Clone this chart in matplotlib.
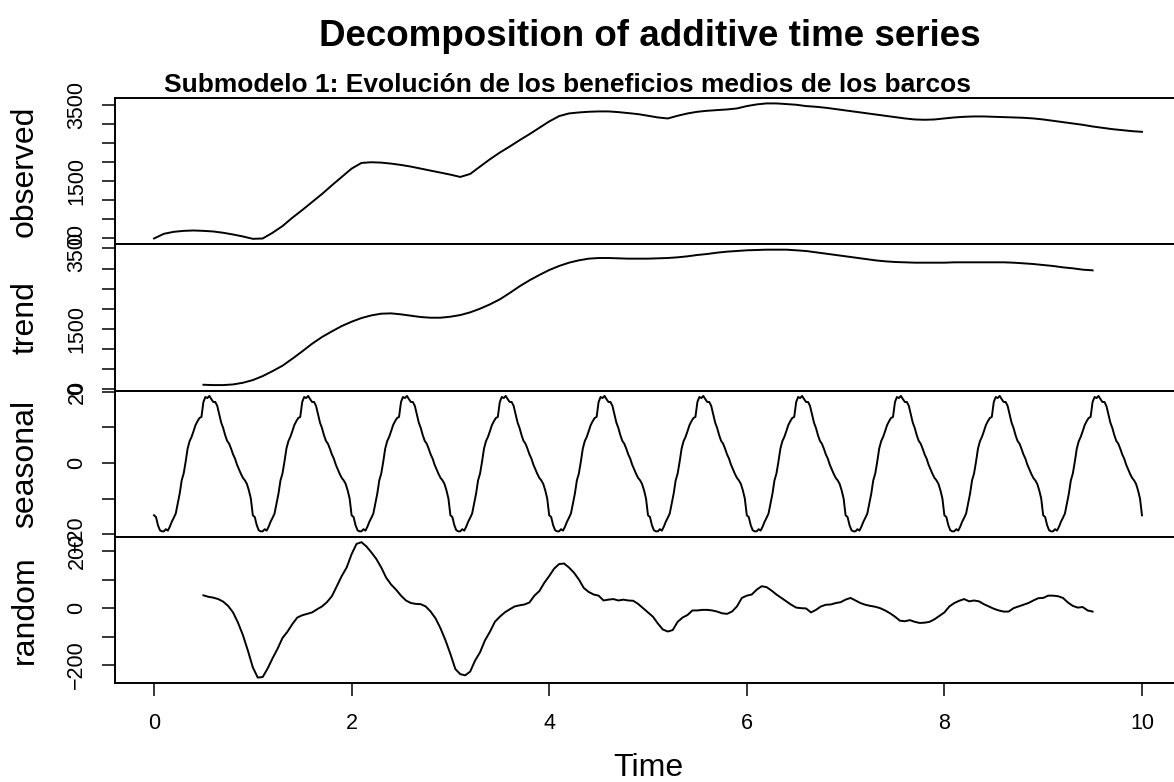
import numpy as np
import matplotlib.pyplot as plt

plt.rcParams['font.family'] = ['Liberation Sans', 'DejaVu Sans']

# observed series, every 0.1 time units from 0 to 10
observed = [
    0, 123, 175, 200, 210, 200, 184, 150, 105, 53,
    -9, 0, 150, 325, 544, 745, 956, 1166, 1394, 1614,
    1833, 1982, 2000, 1990, 1964, 1929, 1886, 1833, 1780, 1728,
    1675, 1614, 1693, 1886, 2078, 2254, 2412, 2578, 2736, 2903,
    3070, 3210, 3280, 3306, 3324, 3333, 3333, 3315, 3289, 3262,
    3219, 3175, 3148, 3219, 3280, 3324, 3350, 3368, 3385, 3411,
    3473, 3517, 3543, 3543, 3526, 3508, 3473, 3455, 3429, 3394,
    3359, 3324, 3289, 3254, 3219, 3184, 3149, 3122, 3114, 3122,
    3149, 3175, 3192, 3201, 3201, 3192, 3184, 3175, 3166, 3149,
    3122, 3087, 3052, 3017, 2982, 2938, 2903, 2868, 2842, 2815, 2798,
]

# trend, every 0.1 from 0.5 to 9.5
trend = [
    116, 108, 108, 124, 166,
    232, 331, 455, 588, 762, 944, 1134, 1300, 1441, 1573,
    1681, 1772, 1838, 1880, 1888, 1863, 1830, 1797, 1780, 1780,
    1805, 1846, 1913, 2004, 2111, 2236, 2393, 2559, 2708, 2840,
    2964, 3064, 3146, 3204, 3246, 3262, 3262, 3254, 3246, 3246,
    3246, 3254, 3262, 3279, 3304, 3337, 3362, 3395, 3420, 3436,
    3453, 3461, 3469, 3469, 3469, 3453, 3436, 3403, 3370, 3337,
    3304, 3271, 3238, 3204, 3180, 3163, 3155, 3146, 3146, 3146,
    3146, 3155, 3155, 3155, 3155, 3155, 3155, 3146, 3130, 3113,
    3088, 3064, 3030, 3006, 2973, 2956,
]

# one seasonal period (50 values per time unit), repeated over the series
seasonal_period = [
    -14.7, -15.2, -17.5, -18.9, -19.2, -19.2, -18.6, -19.0, -17.9, -16.5,
    -15.4, -14.2, -11.4, -8.6, -4.9, -3.0, 0.3, 4.0, 6.1, 7.3,
    8.9, 10.6, 11.7, 12.6, 12.9, 17.1, 18.5, 18.2, 18.8, 17.9,
    17.1, 17.1, 16.0, 13.6, 11.3, 9.8, 7.8, 6.2, 5.4, 4.0,
    2.4, 1.2, -0.5, -1.8, -3.1, -4.2, -4.9, -5.9, -7.7, -10.0,
]
n_periods = 10

# remainder, every 0.05 from 0.5 to 9.5
random = [
    45, 40, 37, 32, 23, 8, -15, -51, -95, -149,
    -208, -244, -242, -212, -176, -143, -105, -83, -56, -33,
    -25, -20, -15, -4, 6, 21, 42, 77, 113, 143,
    190, 226, 232, 217, 196, 173, 143, 107, 83, 65,
    44, 27, 18, 15, 14, 6, -12, -36, -71, -113,
    -161, -214, -232, -236, -223, -184, -155, -113, -83, -48,
    -30, -15, -4, 6, 10, 13, 20, 44, 60, 89,
    113, 139, 155, 157, 143, 125, 101, 71, 57, 48,
    44, 27, 30, 32, 27, 30, 27, 26, 15, 0,
    -15, -30, -54, -75, -82, -77, -48, -33, -24, -8,
    -8, -6, -6, -8, -12, -18, -20, -12, 6, 36,
    44, 48, 65, 77, 74, 62, 48, 36, 24, 12,
    2, 0, -1, -15, -6, 6, 12, 13, 18, 21,
    30, 36, 27, 18, 12, 8, 5, 0, -8, -18,
    -30, -44, -46, -42, -48, -52, -51, -48, -39, -27,
    -15, 6, 18, 26, 32, 24, 27, 24, 14, 6,
    -2, -8, -12, -12, 0, 6, 12, 18, 27, 35,
    36, 44, 44, 42, 36, 20, 8, 2, 4, -8, -12,
]

obs_ticks = [0, 500, 1000, 1500, 2000, 2500, 3000, 3500]
obs_labels = ['0', '', '', '1500', '', '', '', '3500']
trend_ticks = obs_ticks
trend_labels = obs_labels
seas_ticks = [-20, -10, 0, 10, 20]
seas_labels = ['\u221220', '', '0', '', '20']
rand_ticks = [-200, -100, 0, 100, 200]
rand_labels = ['\u2212200', '', '0', '', '200']
x_ticks = [0, 2, 4, 6, 8, 10]

title = 'Decomposition of additive time series'
subtitle = 'Submodelo 1: Evolución de los beneficios medios de los barcos'

seasonal = np.append(np.tile(seasonal_period, n_periods), seasonal_period[0])
t_obs = np.linspace(0, 10, len(observed))
t_trend = np.linspace(0.5, 9.5, len(trend))
t_seas = np.linspace(0, 10, len(seasonal))
t_rand = np.linspace(0.5, 9.5, len(random))

W, H = 1174, 782
fig = plt.figure(figsize=(W / 100, H / 100), dpi=100)
x0, x1 = 114.5, 1181.5
edges = [98, 244.25, 390.5, 536.75, 683]

panels = [
    ('observed', t_obs, observed, obs_ticks, obs_labels),
    ('trend', t_trend, trend, trend_ticks, trend_labels),
    ('seasonal', t_seas, seasonal, seas_ticks, seas_labels),
    ('random', t_rand, random, rand_ticks, rand_labels),
]

for i, (name, tt, vals, ticks, labels) in enumerate(panels):
    top, bot = edges[i], edges[i + 1]
    ax = fig.add_axes([x0 / W, 1 - bot / H, (x1 - x0) / W, (bot - top) / H])
    ax.plot(tt, vals, color='black', lw=1.4)
    lo, hi = np.min(vals), np.max(vals)
    pad = 0.04 * (hi - lo)
    ax.set_ylim(lo - pad, hi + pad)
    ax.set_xlim(-0.4, 10.4)
    ax.set_yticks(ticks)
    ax.set_yticklabels(labels, rotation=90, va='center')
    ax.tick_params(axis='y', length=9.5, width=1.1, labelsize=15.5, pad=10)
    for s in ['left', 'top', 'bottom']:
        ax.spines[s].set_linewidth(1.4)
    ax.spines['right'].set_visible(False)
    if i == len(panels) - 1:
        ax.set_xticks(x_ticks)
        ax.set_xticklabels([str(x) for x in x_ticks])
        ax.tick_params(axis='x', length=9.5, width=1.1, labelsize=15.5, pad=12)
    else:
        ax.set_xticks([])
    fig.text(25 / W, 1 - (top + bot) / 2 / H, name, rotation=90,
             ha='center', va='center', fontsize=23)

fig.text(650 / W, 1 - 36 / H, title, ha='center', va='center',
         fontsize=26.5, fontweight='bold')
fig.text(568 / W, 1 - 85 / H, subtitle, ha='center', va='center',
         fontsize=19, fontweight='bold')
fig.text(648 / W, 1 - 768 / H, 'Time', ha='center', va='center', fontsize=23)

fig.savefig('out.png', dpi=100)
